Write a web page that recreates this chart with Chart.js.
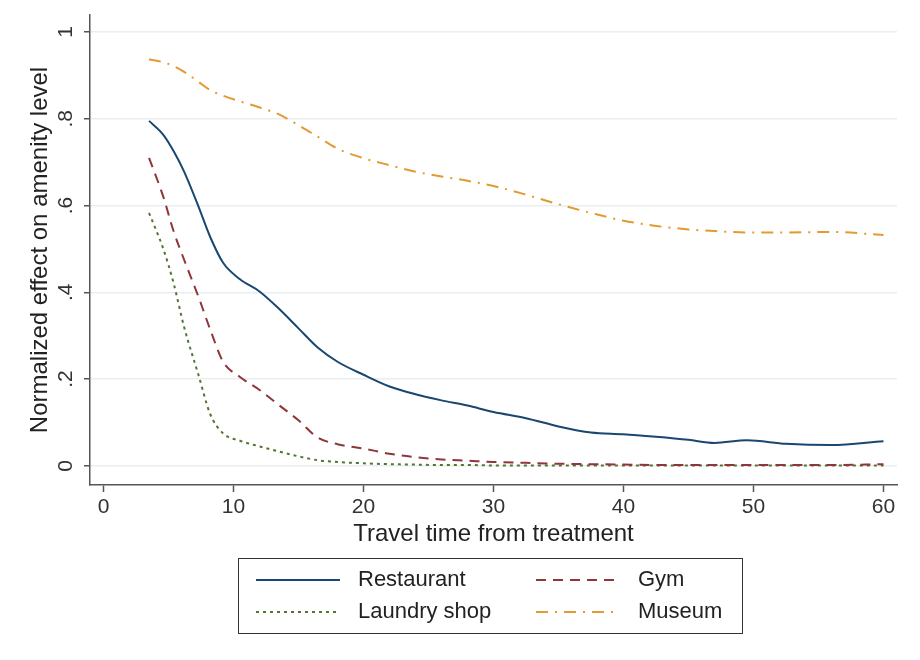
<!DOCTYPE html>
<html>
<head>
<meta charset="utf-8">
<script src="https://cdn.jsdelivr.net/npm/chart.js@4"></script>
<style>
  html, body { margin: 0; padding: 0; background: #fff; }
  #grafico { display: block; }
</style>
</head>
<body>
<canvas id="grafico" width="920" height="660"></canvas>
<script>
const tempoViagem = [3.5, 4.6, 5.4, 6.2, 7.3, 8.2, 9.2, 10.5, 12, 13.5, 15, 16.5, 18, 20, 22,
  24, 26, 28, 30, 32.5, 35, 37.5, 40, 42.5, 45, 47, 49.5, 52.5, 56, 60];

const restaurante = [0.795, 0.763, 0.725, 0.678, 0.598, 0.528, 0.468, 0.430, 0.402, 0.362, 0.317,
  0.272, 0.240, 0.210, 0.183, 0.165, 0.151, 0.139, 0.124, 0.110, 0.091, 0.077, 0.073, 0.067,
  0.060, 0.053, 0.059, 0.051, 0.048, 0.057];

const academia = [0.71, 0.62, 0.54, 0.475, 0.39, 0.315, 0.24, 0.205, 0.175, 0.14, 0.105, 0.065,
  0.05, 0.04, 0.028, 0.02, 0.015, 0.012, 0.009, 0.007, 0.005, 0.004, 0.003, 0.002, 0.002, 0.002,
  0.002, 0.002, 0.002, 0.004];

const lavanderia = [0.583, 0.50, 0.42, 0.32, 0.21, 0.12, 0.075, 0.058, 0.045, 0.033, 0.022, 0.013,
  0.009, 0.006, 0.004, 0.003, 0.002, 0.002, 0.001, 0.001, 0.001, 0.001, 0.001, 0.001, 0.001,
  0.001, 0.001, 0.001, 0.001, 0.001];

const museu = [0.937, 0.930, 0.921, 0.908, 0.885, 0.866, 0.853, 0.840, 0.826, 0.810, 0.785, 0.758,
  0.731, 0.709, 0.693, 0.678, 0.667, 0.657, 0.645, 0.625, 0.603, 0.583, 0.565, 0.553, 0.545,
  0.541, 0.538, 0.538, 0.539, 0.532];

const ticksX = [0, 10, 20, 30, 40, 50, 60];
const ticksY = [0, 0.2, 0.4, 0.6, 0.8, 1];
const rotulosY = ["0", ".2", ".4", ".6", ".8", "1"];

const pontos = serie => tempoViagem.map((t, i) => ({ x: t, y: serie[i] }));

Chart.defaults.font.family = "'Liberation Sans', Arial, sans-serif";

// rótulos do eixo y girados (estilo Stata)
const rotulosGirados = {
  id: "rotulosGirados",
  afterDraw(chart) {
    const ctx = chart.ctx;
    const y = chart.scales.y;
    ctx.save();
    ctx.fillStyle = "#333";
    ctx.font = "21px 'Liberation Sans', Arial, sans-serif";
    ctx.textAlign = "center";
    ctx.textBaseline = "middle";
    ticksY.forEach((v, i) => {
      ctx.save();
      ctx.translate(66, y.getPixelForValue(v));
      ctx.rotate(-Math.PI / 2);
      ctx.fillText(rotulosY[i], 0, 0);
      ctx.restore();
    });
    ctx.restore();
  }
};

// legenda em caixa 2x2
const legendaCaixa = {
  id: "legendaCaixa",
  afterDraw(chart) {
    const ctx = chart.ctx;
    ctx.save();
    ctx.strokeStyle = "#333";
    ctx.lineWidth = 1;
    ctx.strokeRect(238.5, 558.5, 504, 75);
    const colunas = [256, 536];
    const linhas = [580, 612];
    chart.data.datasets.forEach((ds, i) => {
      const x = colunas[i % 2];
      const y = linhas[Math.floor(i / 2)];
      ctx.beginPath();
      ctx.setLineDash(ds.borderDash || []);
      ctx.strokeStyle = ds.borderColor;
      ctx.lineWidth = ds.borderWidth;
      ctx.moveTo(x, y);
      ctx.lineTo(x + 84, y);
      ctx.stroke();
      ctx.setLineDash([]);
      ctx.fillStyle = "#222";
      ctx.font = "22px 'Liberation Sans', Arial, sans-serif";
      ctx.textAlign = "left";
      ctx.textBaseline = "middle";
      ctx.fillText(ds.label, x + 102, y);
    });
    ctx.restore();
  }
};

new Chart(document.getElementById("grafico"), {
  type: "line",
  data: {
    datasets: [
      { label: "Restaurant", data: pontos(restaurante), borderColor: "#1a476f", borderWidth: 2 },
      { label: "Gym", data: pontos(academia), borderColor: "#90353b", borderWidth: 2, borderDash: [10, 7] },
      { label: "Laundry shop", data: pontos(lavanderia), borderColor: "#55752f", borderWidth: 2, borderDash: [3, 4] },
      { label: "Museum", data: pontos(museu), borderColor: "#e39a2f", borderWidth: 2, borderDash: [12, 7, 2, 7] }
    ]
  },
  options: {
    responsive: false,
    animation: false,
    layout: { padding: { left: 26, right: 23, top: 15, bottom: 111 } },
    elements: {
      point: { radius: 0 },
      line: { cubicInterpolationMode: "monotone", fill: false }
    },
    plugins: {
      legend: { display: false },
      tooltip: { enabled: false }
    },
    scales: {
      x: {
        type: "linear",
        min: -1.04,
        max: 61.04,
        afterBuildTicks: s => { s.ticks = ticksX.map(v => ({ value: v })); },
        afterFit: s => { s.height = 64; },
        grid: { drawOnChartArea: false, drawTicks: true, tickLength: 7, tickColor: "#555", tickWidth: 1.5 },
        border: { color: "#555", width: 1.5 },
        ticks: { color: "#333", font: { size: 21 }, padding: 3, maxRotation: 0 },
        title: { display: true, text: "Travel time from treatment", color: "#222", font: { size: 24 }, padding: 0 }
      },
      y: {
        type: "linear",
        min: -0.044,
        max: 1.039,
        afterBuildTicks: s => { s.ticks = ticksY.map(v => ({ value: v })); },
        afterFit: s => { s.width = 64; },
        grid: { color: "#e9eef0", lineWidth: 1.5, drawTicks: true, tickLength: 6, tickColor: "#555", tickWidth: 1.5 },
        border: { color: "#555", width: 1.5 },
        ticks: { color: "transparent", font: { size: 20 }, callback: v => rotulosY[ticksY.indexOf(v)] },
        title: { display: true, text: "Normalized effect on amenity level", color: "#222", font: { size: 24 }, padding: 0 }
      }
    }
  },
  plugins: [rotulosGirados, legendaCaixa]
});
</script>
</body>
</html>
